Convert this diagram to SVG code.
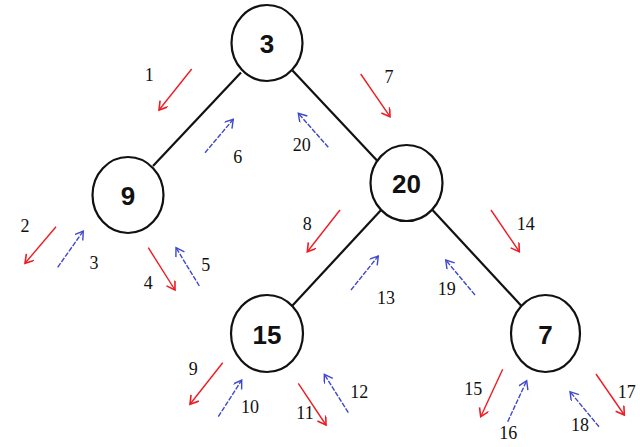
<svg xmlns="http://www.w3.org/2000/svg" width="640" height="447" viewBox="0 0 640 447">
<style>
.node ellipse{fill:#fff;stroke:#111;stroke-width:2.2}
.node text{font-family:"Liberation Sans",Arial,sans-serif;font-weight:bold;font-size:26px;fill:#111;text-anchor:middle;dominant-baseline:central}
.edge{stroke:#111;stroke-width:2.2;fill:none}
.r{stroke:#ee1c24;stroke-width:1.4;fill:none;marker-end:url(#ar)}
.b{stroke:#3f48cc;stroke-width:1.4;fill:none;stroke-dasharray:5 1.5;marker-end:url(#ab)}
.lbl{font-family:"Liberation Serif","Times New Roman",serif;font-size:18px;fill:#111;text-anchor:middle;dominant-baseline:central}
</style>
<defs>
<marker id="ar" markerWidth="12" markerHeight="12" refX="9" refY="5" orient="auto" markerUnits="userSpaceOnUse"><path d="M1,0 L9,5 L1,10" fill="none" stroke="#ee1c24" stroke-width="1.6"/></marker>
<marker id="ab" markerWidth="12" markerHeight="12" refX="9" refY="5" orient="auto" markerUnits="userSpaceOnUse"><path d="M1,0 L9,5 L1,10" fill="none" stroke="#3f48cc" stroke-width="1.4"/></marker>
</defs>
<rect width="640" height="447" fill="#fff"/>
<g id="connectors">
<line class="edge" x1="241" y1="72.5" x2="153" y2="166"/>
<line class="edge" x1="292.5" y1="70.5" x2="377" y2="160.5"/>
<line class="edge" x1="382" y1="209" x2="292.5" y2="305.5"/>
<line class="edge" x1="432.5" y1="210" x2="521" y2="305.5"/>
</g>
<g id="n3" class="node"><ellipse cx="267" cy="43" rx="35.5" ry="38"/><text x="267" y="44">3</text></g>
<g id="n9" class="node"><ellipse cx="128" cy="195" rx="35.5" ry="38"/><text x="128" y="196">9</text></g>
<g id="n20" class="node"><ellipse cx="406.5" cy="183" rx="36" ry="38"/><text x="406.5" y="184">20</text></g>
<g id="n15" class="node"><ellipse cx="267" cy="333.5" rx="36" ry="38.5"/><text x="267" y="334.5">15</text></g>
<g id="n7" class="node"><ellipse cx="545.5" cy="333.5" rx="34.5" ry="38.5"/><text x="545.5" y="334.5">7</text></g>
<g id="arrows">
<line class="r" x1="191.7" y1="69" x2="159" y2="110"/>
<line class="b" x1="205" y1="152.7" x2="233.3" y2="119.3"/>
<line class="b" x1="328.3" y1="147.3" x2="298.3" y2="113.3"/>
<line class="r" x1="360.7" y1="74" x2="390" y2="116.7"/>
<line class="r" x1="56" y1="226.7" x2="25" y2="263.3"/>
<line class="b" x1="57.7" y1="267.3" x2="83.3" y2="231"/>
<line class="r" x1="148.3" y1="247.7" x2="175" y2="290"/>
<line class="b" x1="199.3" y1="286" x2="176" y2="247.7"/>
<line class="r" x1="340" y1="210" x2="307.3" y2="251.7"/>
<line class="b" x1="351" y1="290" x2="378.3" y2="256"/>
<line class="b" x1="475" y1="295" x2="445.7" y2="260"/>
<line class="r" x1="491" y1="210" x2="519.3" y2="251.7"/>
<line class="r" x1="222.7" y1="362.7" x2="190" y2="404.3"/>
<line class="b" x1="218.3" y1="416.7" x2="241.7" y2="380"/>
<line class="r" x1="298.3" y1="383.3" x2="326" y2="425"/>
<line class="b" x1="348.3" y1="412.7" x2="324.3" y2="374.3"/>
<line class="r" x1="502.7" y1="369.3" x2="480.7" y2="416.7"/>
<line class="b" x1="507.7" y1="421.7" x2="526.7" y2="380.7"/>
<line class="b" x1="599" y1="426.7" x2="570" y2="391.7"/>
<line class="r" x1="596" y1="374" x2="624.3" y2="415"/>
</g>
<g id="labels">
<text class="lbl" x="149.3" y="75">1</text>
<text class="lbl" x="237.7" y="156.7">6</text>
<text class="lbl" x="301.7" y="145">20</text>
<text class="lbl" x="389" y="77.3">7</text>
<text class="lbl" x="25" y="226">2</text>
<text class="lbl" x="94" y="263">3</text>
<text class="lbl" x="148.3" y="283.3">4</text>
<text class="lbl" x="205.7" y="265">5</text>
<text class="lbl" x="307.3" y="224">8</text>
<text class="lbl" x="386" y="298.3">13</text>
<text class="lbl" x="446.7" y="289.3">19</text>
<text class="lbl" x="525.7" y="224">14</text>
<text class="lbl" x="193.3" y="369.3">9</text>
<text class="lbl" x="250" y="406.7">10</text>
<text class="lbl" x="305" y="413.3">11</text>
<text class="lbl" x="359.3" y="391.7">12</text>
<text class="lbl" x="473.3" y="389">15</text>
<text class="lbl" x="508.3" y="432.7">16</text>
<text class="lbl" x="580" y="425">18</text>
<text class="lbl" x="626.7" y="391.7">17</text>
</g>
</svg>
